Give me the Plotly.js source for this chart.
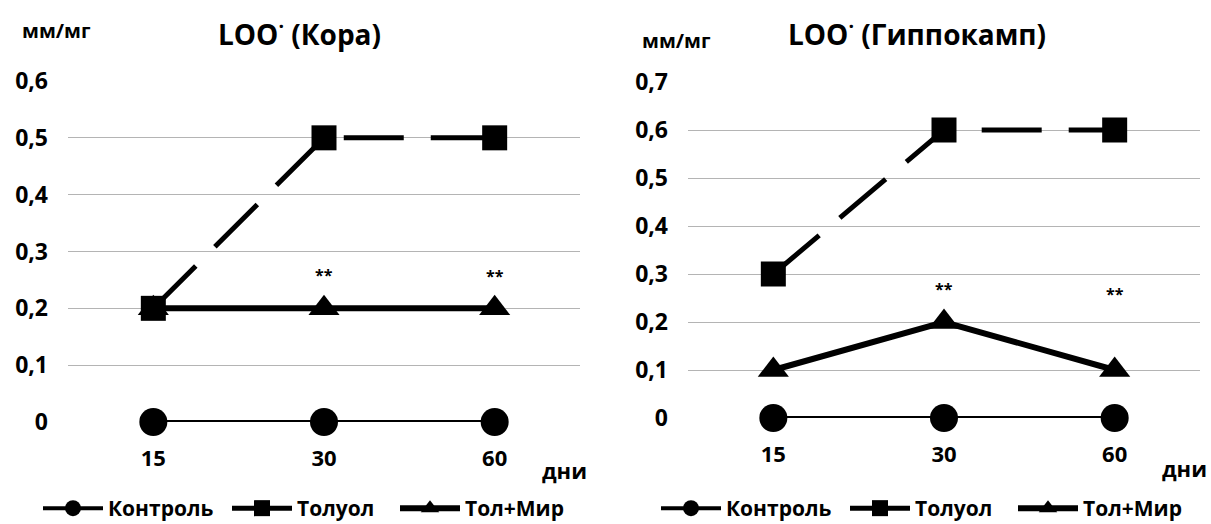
<!DOCTYPE html>
<html>
<head>
<meta charset="utf-8">
<script src="https://cdn.plot.ly/plotly-3.0.1.min.js"></script>
<style>html,body{margin:0;padding:0;background:#fff}#chart{width:1211px;height:524px}</style>
</head>
<body>
<div id="chart"></div>
<script>
// ---- data ----
const days = ['15', '30', '60'];
const seriesNames = ['Контроль', 'Толуол', 'Тол+Мир'];
const koraControl = [0, 0, 0];
const koraToluol = [0.2, 0.5, 0.5];
const koraTolMir = [0.2, 0.2, 0.2];
const hipControl = [0, 0, 0];
const hipToluol = [0.3, 0.6, 0.6];
const hipTolMir = [0.1, 0.2, 0.1];
const koraStars = ['', '**', '**'];
const hipStars = ['', '**', '**'];
const titleKora = 'LOO<sup>·</sup> (Кора)';
const titleHip = 'LOO<sup>·</sup> (Гиппокамп)';
const unitLabel = 'мм/мг';
const xUnitLabel = 'дни';

// ---- styles ----
const FONT = 'Open Sans, Liberation Sans, sans-serif';
const styles = {
  'Контроль': {line: {color: '#000', width: 4}, marker: {symbol: 'circle', size: 28, color: '#000'}},
  'Толуол':   {line: {color: '#000', width: 5, dash: '60px,27px'}, marker: {symbol: 'square', size: 25, color: '#000'}},
  'Тол+Мир':  {line: {color: '#000', width: 6}, marker: {symbol: 'triangle-up', size: 27, color: '#000'}}
};

function mk(name, y, xa, ya, legend) {
  return {
    type: 'scatter', mode: 'lines+markers', name: name,
    x: days, y: y, xaxis: xa, yaxis: ya, legend: legend,
    line: styles[name].line, marker: styles[name].marker, cliponaxis: false,
    hoverinfo: 'x+y+name'
  };
}

const traces = [
  mk(seriesNames[0], koraControl, 'x', 'y', 'legend'),
  mk(seriesNames[2], koraTolMir, 'x', 'y', 'legend3'),
  mk(seriesNames[1], koraToluol, 'x', 'y', 'legend2'),
  mk(seriesNames[0], hipControl, 'x2', 'y2', 'legend4'),
  mk(seriesNames[2], hipTolMir, 'x2', 'y2', 'legend6'),
  mk(seriesNames[1], hipToluol, 'x2', 'y2', 'legend5')
];

const W = 1211, H = 524;
const fx = p => p / W, fy = p => 1 - p / H;

function xax(d, anchor) {
  return {
    domain: d, anchor: anchor, type: 'category', range: [-0.5, 2.5], showgrid: false, zeroline: false,
    showline: false, ticks: '', ticklabelstandoff: 21, automargin: false,
    tickfont: {family: FONT, size: 22, color: '#000', weight: 'bold'}, fixedrange: true
  };
}
function yax(d, max, anchor) {
  return {
    domain: d, anchor: anchor, range: [0, max], dtick: 0.1, tick0: 0, tickformat: '.1~f',
    showgrid: true, gridcolor: '#b4b4b4', gridwidth: 1, zeroline: false, showline: false,
    ticks: '', ticklabelstandoff: 19, automargin: false,
    tickfont: {family: FONT, size: 23, color: '#000', weight: 'bold'}, fixedrange: true
  };
}

const annFont = (s) => ({family: FONT, size: s, color: '#000', weight: 'bold'});
const txt = (text, px, py, size) => ({text: text, xref: 'paper', yref: 'paper', x: fx(px), y: fy(py),
  xanchor: 'center', yanchor: 'middle', showarrow: false, font: annFont(size)});
const annotations = [
  txt(titleKora, 299, 33, 28),
  txt(titleHip, 917, 33, 28),
  txt(unitLabel, 56, 30, 20),
  txt(unitLabel, 676, 40, 20),
  txt(xUnitLabel, 564, 470, 22),
  txt(xUnitLabel, 1184, 468, 22)
];
const koraStarShift = [0, 33, 32];
const hipStarShift = [0, 33, 76];
days.forEach((d, i) => {
  if (koraStars[i]) annotations.push({text: koraStars[i], x: i, y: koraTolMir[i], xref: 'x', yref: 'y', yshift: koraStarShift[i], xanchor: 'center', yanchor: 'middle', showarrow: false, font: annFont(16)});
  if (hipStars[i]) annotations.push({text: hipStars[i], x: i, y: hipTolMir[i], xref: 'x2', yref: 'y2', yshift: hipStarShift[i], xanchor: 'center', yanchor: 'middle', showarrow: false, font: annFont(16)});
});

const legFont = {family: FONT, size: 21, color: '#000', weight: 'bold'};
const legAt = (textStart) => ({orientation: 'h', x: fx(textStart - 70), y: -5 / H, xanchor: 'left', yanchor: 'bottom', font: legFont, itemwidth: 60, bgcolor: 'rgba(0,0,0,0)'});

const layout = {
  width: W, height: H, margin: {l: 0, r: 0, t: 0, b: 0, autoexpand: false},
  paper_bgcolor: '#fff', plot_bgcolor: '#fff', separators: ', ',
  xaxis: xax([fx(68), fx(580)], 'y'), yaxis: yax([fy(422), fy(81)], 0.6, 'x'),
  xaxis2: xax([fx(688), fx(1200)], 'y2'), yaxis2: yax([fy(418), fy(82)], 0.7, 'x2'),
  legend: legAt(108), legend2: legAt(297), legend3: legAt(465),
  legend4: legAt(726), legend5: legAt(915), legend6: legAt(1083),
  annotations: annotations,
  showlegend: true
};

Plotly.newPlot('chart', traces, layout, {displayModeBar: false, staticPlot: true});
</script>
</body>
</html>
